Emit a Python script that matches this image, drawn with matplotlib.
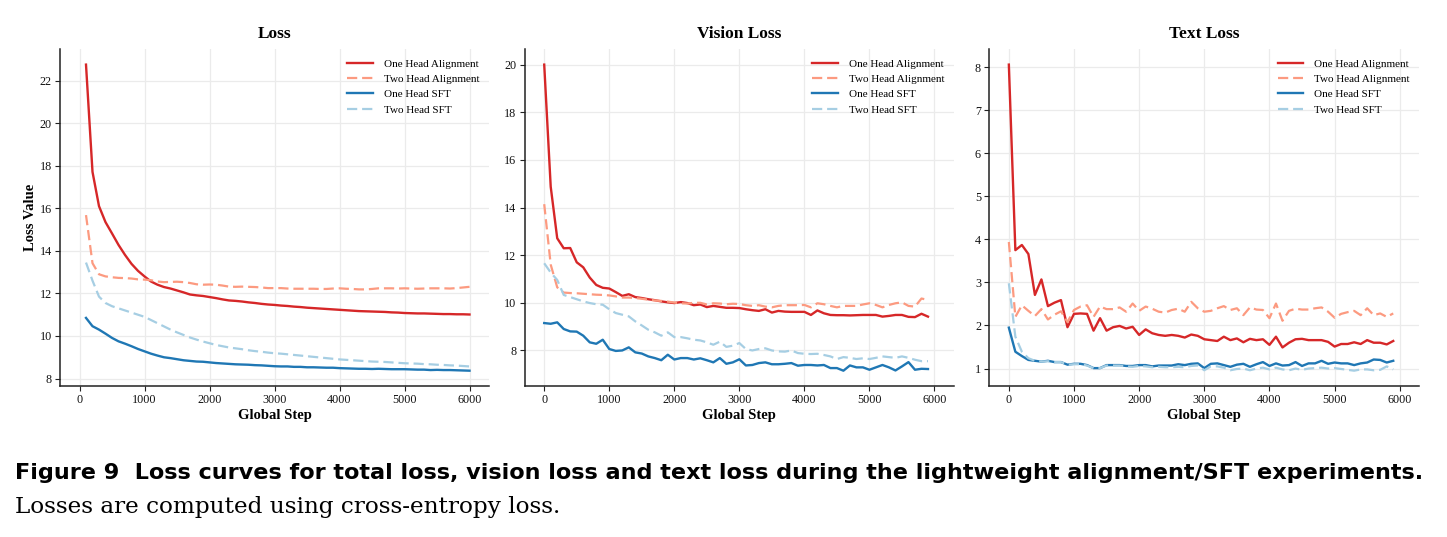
import matplotlib
matplotlib.use("Agg")
import matplotlib.pyplot as plt
import numpy as np

# ---------------- data ----------------
steps_total = list(range(100, 6001, 100))
steps_split = list(range(0, 5901, 100))

total_one_align = [22.75, 17.71, 16.10, 15.35, 14.82, 14.28, 13.81, 13.39, 13.06, 12.80,
                   12.56, 12.41, 12.30, 12.23, 12.14, 12.05, 11.95, 11.91, 11.88, 11.83,
                   11.78, 11.72, 11.67, 11.65, 11.62, 11.58, 11.55, 11.51, 11.48, 11.46,
                   11.43, 11.41, 11.38, 11.36, 11.33, 11.31, 11.29, 11.27, 11.25, 11.23,
                   11.21, 11.19, 11.17, 11.16, 11.15, 11.14, 11.13, 11.11, 11.10, 11.08,
                   11.07, 11.06, 11.06, 11.05, 11.04, 11.03, 11.03, 11.02, 11.02, 11.01]
total_two_align = [15.68, 13.42, 12.90, 12.80, 12.76, 12.73, 12.72, 12.70, 12.66, 12.65,
                   12.62, 12.56, 12.53, 12.54, 12.55, 12.53, 12.49, 12.43, 12.41, 12.42,
                   12.41, 12.37, 12.32, 12.31, 12.32, 12.31, 12.30, 12.28, 12.25, 12.25,
                   12.25, 12.23, 12.22, 12.22, 12.22, 12.22, 12.21, 12.21, 12.23, 12.24,
                   12.22, 12.21, 12.19, 12.19, 12.21, 12.24, 12.24, 12.24, 12.23, 12.24,
                   12.23, 12.22, 12.23, 12.24, 12.24, 12.24, 12.23, 12.25, 12.28, 12.31]
total_one_sft = [10.85, 10.46, 10.30, 10.11, 9.91, 9.75, 9.64, 9.52, 9.39, 9.28,
                 9.17, 9.08, 9.00, 8.96, 8.91, 8.86, 8.83, 8.80, 8.79, 8.76,
                 8.73, 8.71, 8.69, 8.67, 8.66, 8.65, 8.63, 8.62, 8.60, 8.58,
                 8.57, 8.57, 8.55, 8.55, 8.53, 8.53, 8.52, 8.51, 8.51, 8.49,
                 8.48, 8.47, 8.46, 8.46, 8.45, 8.46, 8.45, 8.44, 8.44, 8.44,
                 8.43, 8.42, 8.42, 8.40, 8.41, 8.40, 8.40, 8.39, 8.38, 8.37]
total_two_sft = [13.45, 12.60, 11.85, 11.55, 11.40, 11.30, 11.20, 11.10, 11.00, 10.90,
                 10.75, 10.60, 10.45, 10.30, 10.17, 10.05, 9.93, 9.83, 9.74, 9.66,
                 9.58, 9.52, 9.46, 9.42, 9.38, 9.33, 9.29, 9.26, 9.22, 9.19,
                 9.17, 9.14, 9.11, 9.08, 9.05, 9.02, 8.99, 8.96, 8.93, 8.90,
                 8.88, 8.86, 8.84, 8.82, 8.80, 8.79, 8.78, 8.76, 8.74, 8.72,
                 8.71, 8.70, 8.68, 8.67, 8.65, 8.64, 8.62, 8.61, 8.59, 8.57]

vision_one_align = [20.00, 14.87, 12.71, 12.29, 12.30, 11.70, 11.49, 11.06, 10.75, 10.63,
                    10.60, 10.45, 10.29, 10.36, 10.24, 10.20, 10.15, 10.11, 10.06, 10.02,
                    9.99, 10.03, 9.99, 9.90, 9.93, 9.82, 9.87, 9.83, 9.79, 9.79,
                    9.78, 9.73, 9.69, 9.66, 9.73, 9.59, 9.66, 9.63, 9.62, 9.62,
                    9.62, 9.49, 9.68, 9.56, 9.49, 9.48, 9.48, 9.47, 9.48, 9.49,
                    9.49, 9.49, 9.42, 9.45, 9.49, 9.49, 9.41, 9.40, 9.54, 9.42]
vision_two_align = [14.14, 11.60, 10.65, 10.43, 10.41, 10.40, 10.38, 10.36, 10.34, 10.33,
                    10.31, 10.27, 10.22, 10.22, 10.20, 10.17, 10.13, 10.10, 10.08, 10.05,
                    10.01, 9.98, 9.97, 10.00, 10.00, 9.93, 9.98, 9.97, 9.94, 9.96,
                    9.95, 9.90, 9.87, 9.90, 9.84, 9.81, 9.87, 9.90, 9.90, 9.90,
                    9.91, 9.81, 9.98, 9.94, 9.87, 9.81, 9.87, 9.87, 9.87, 9.93,
                    9.98, 9.91, 9.81, 9.91, 9.98, 10.02, 9.87, 9.84, 10.18, 10.12]
vision_one_sft = [9.15, 9.12, 9.18, 8.90, 8.80, 8.79, 8.62, 8.34, 8.28, 8.45,
                  8.06, 7.98, 8.00, 8.13, 7.92, 7.87, 7.75, 7.68, 7.59, 7.82,
                  7.62, 7.68, 7.68, 7.62, 7.67, 7.59, 7.50, 7.68, 7.44, 7.50,
                  7.63, 7.37, 7.39, 7.47, 7.50, 7.42, 7.42, 7.44, 7.47, 7.36,
                  7.39, 7.39, 7.37, 7.39, 7.26, 7.26, 7.15, 7.37, 7.29, 7.29,
                  7.19, 7.29, 7.39, 7.29, 7.16, 7.33, 7.51, 7.19, 7.23, 7.22]
vision_two_sft = [11.66, 11.27, 10.96, 10.33, 10.24, 10.15, 10.06, 9.99, 9.94, 9.92,
                  9.73, 9.57, 9.50, 9.43, 9.22, 9.05, 8.87, 8.76, 8.62, 8.76,
                  8.56, 8.56, 8.51, 8.45, 8.42, 8.34, 8.24, 8.37, 8.15, 8.20,
                  8.31, 8.06, 8.00, 8.06, 8.09, 8.00, 7.96, 7.95, 8.00, 7.89,
                  7.86, 7.85, 7.86, 7.81, 7.75, 7.64, 7.72, 7.69, 7.64, 7.67,
                  7.64, 7.69, 7.75, 7.72, 7.69, 7.75, 7.69, 7.61, 7.55, 7.55]

text_one_align = [8.06, 3.75, 3.87, 3.66, 2.71, 3.07, 2.45, 2.53, 2.59, 1.96,
                  2.27, 2.28, 2.27, 1.88, 2.17, 1.88, 1.96, 1.99, 1.93, 1.97,
                  1.78, 1.91, 1.82, 1.78, 1.76, 1.78, 1.76, 1.72, 1.79, 1.76,
                  1.68, 1.66, 1.64, 1.74, 1.66, 1.70, 1.61, 1.69, 1.66, 1.68,
                  1.55, 1.74, 1.49, 1.60, 1.68, 1.69, 1.66, 1.66, 1.66, 1.62,
                  1.51, 1.57, 1.57, 1.61, 1.57, 1.66, 1.60, 1.60, 1.56, 1.64]
text_two_align = [3.94, 2.20, 2.47, 2.34, 2.22, 2.38, 2.14, 2.25, 2.33, 2.08,
                  2.36, 2.44, 2.47, 2.20, 2.44, 2.38, 2.38, 2.42, 2.32, 2.51,
                  2.34, 2.44, 2.39, 2.32, 2.30, 2.36, 2.39, 2.32, 2.55, 2.40,
                  2.32, 2.34, 2.40, 2.45, 2.36, 2.40, 2.24, 2.42, 2.37, 2.36,
                  2.17, 2.51, 2.11, 2.34, 2.39, 2.37, 2.37, 2.40, 2.42, 2.32,
                  2.18, 2.27, 2.31, 2.34, 2.24, 2.40, 2.24, 2.28, 2.20, 2.28]
text_one_sft = [1.95, 1.39, 1.29, 1.20, 1.18, 1.16, 1.18, 1.15, 1.15, 1.09,
                1.11, 1.11, 1.08, 1.01, 1.01, 1.08, 1.08, 1.08, 1.06, 1.06,
                1.08, 1.08, 1.05, 1.07, 1.07, 1.07, 1.10, 1.08, 1.11, 1.12,
                1.01, 1.11, 1.12, 1.08, 1.04, 1.09, 1.11, 1.04, 1.10, 1.15,
                1.06, 1.12, 1.07, 1.08, 1.15, 1.06, 1.12, 1.12, 1.18, 1.11,
                1.14, 1.12, 1.12, 1.08, 1.12, 1.14, 1.21, 1.20, 1.14, 1.18]
text_two_sft = [2.98, 1.74, 1.39, 1.24, 1.18, 1.16, 1.17, 1.15, 1.15, 1.09,
                1.10, 1.10, 1.07, 1.01, 1.01, 1.07, 1.07, 1.07, 1.05, 1.04,
                1.06, 1.05, 1.03, 1.04, 1.03, 1.03, 1.04, 1.03, 1.06, 1.07,
                0.96, 1.05, 1.05, 1.02, 0.96, 0.99, 1.00, 0.96, 1.00, 1.02,
                0.98, 1.02, 0.98, 0.96, 1.00, 0.97, 1.00, 1.01, 1.02, 1.00,
                1.01, 0.99, 0.97, 0.95, 0.98, 0.98, 0.96, 0.97, 1.05, 0.98]

series_labels = ["One Head Alignment", "Two Head Alignment", "One Head SFT", "Two Head SFT"]
panel_titles = ["Loss", "Vision Loss", "Text Loss"]
x_ticks = [0, 1000, 2000, 3000, 4000, 5000, 6000]
y_ticks_loss = [8, 10, 12, 14, 16, 18, 20, 22]
y_ticks_vision = [8, 10, 12, 14, 16, 18, 20]
y_ticks_text = [1, 2, 3, 4, 5, 6, 7, 8]

caption_bold = "Figure 9  Loss curves for total loss, vision loss and text loss during the lightweight alignment/SFT experiments."
caption_plain = "Losses are computed using cross-entropy loss."

# ---------------- style ----------------
colors = ["#d62728", "#fc9a80", "#1f77b4", "#a6cee3"]
styles = ["-", "--", "-", "--"]
serif = ["Liberation Serif", "DejaVu Serif"]
plt.rcParams["font.family"] = serif

fig = plt.figure(figsize=(14.47, 5.37), dpi=100)
W, H = 1447, 537
axes_px = [(60, 489), (524.7, 954), (989.3, 1419.3)]
top_px, bot_px = 49.3, 386
axes = []
for (l, r) in axes_px:
    ax = fig.add_axes([l / W, 1 - bot_px / H, (r - l) / W, (bot_px - top_px) / H])
    axes.append(ax)

panels = [
    (steps_total, [total_one_align, total_two_align, total_one_sft, total_two_sft], y_ticks_loss),
    (steps_split, [vision_one_align, vision_two_align, vision_one_sft, vision_two_sft], y_ticks_vision),
    (steps_split, [text_one_align, text_two_align, text_one_sft, text_two_sft], y_ticks_text),
]

for i, (ax, (xs, ys_list, yt)) in enumerate(zip(axes, panels)):
    for ys, c, ls, lab in zip(ys_list, colors, styles, series_labels):
        kw = dict(color=c, lw=1.7, label=lab)
        if ls == "--":
            kw["dashes"] = (4.6, 2.2)
            kw["lw"] = 1.6
        ax.plot(xs, ys, **kw)
    ax.set_xlim(-300, 6300)
    ax.set_xticks(x_ticks)
    ax.set_yticks(yt)
    ax.grid(True, color="#ebebeb", lw=0.9)
    ax.set_axisbelow(True)
    for s in ["top", "right"]:
        ax.spines[s].set_visible(False)
    for s in ["left", "bottom"]:
        ax.spines[s].set_color("#222222")
        ax.spines[s].set_linewidth(1.1)
    ax.tick_params(axis="both", labelsize=8.7, length=3.5, width=0.8, color="#222222",
                   pad=2.5, labelcolor="#111111")
    ax.set_title(panel_titles[i], fontsize=12.5, fontweight="bold", pad=8)
    ax.set_xlabel("Global Step", fontsize=10.5, fontweight="bold", labelpad=2)
    if i == 0:
        ax.set_ylabel("Loss Value", fontsize=10.5, fontweight="bold", labelpad=2)
    ax.legend(loc="upper right", frameon=False, fontsize=8, handlelength=2.3,
              labelspacing=0.5, borderaxespad=0.45, handletextpad=1.0)

# captions, sized to span the same width as in the reference
renderer = fig.canvas.get_renderer()
t1 = fig.text(15 / W, 1 - 473 / H, caption_bold, fontsize=14, fontweight="bold",
              family=["DejaVu Sans"], va="center", ha="left")
t2 = fig.text(15 / W, 1 - 507 / H, caption_plain, fontsize=14,
              family=["DejaVu Serif"], va="center", ha="left")
for t, target in [(t1, 1415.0), (t2, 550.0)]:
    w = t.get_window_extent(renderer).width
    t.set_fontsize(t.get_fontsize() * target / w)

fig.savefig("out.png", dpi=100)
